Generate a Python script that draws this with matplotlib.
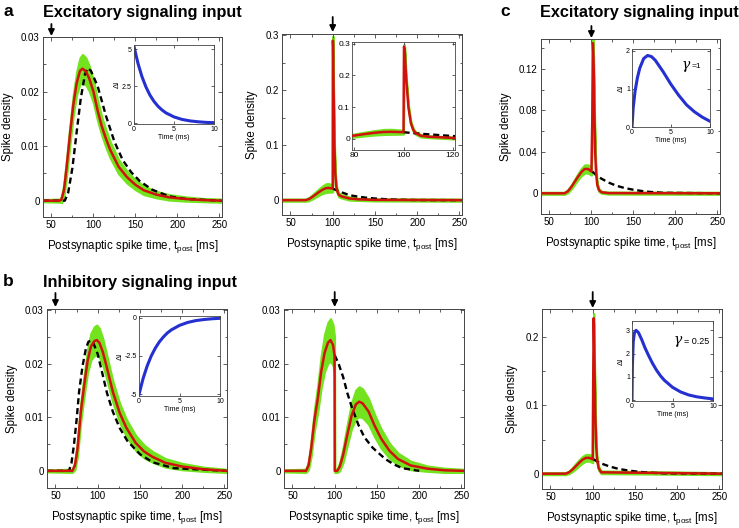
import numpy as np
import matplotlib
matplotlib.use("Agg")
import matplotlib.pyplot as plt
from matplotlib.ticker import MultipleLocator

plt.rcParams['font.family'] = ['Liberation Sans', 'DejaVu Sans']
plt.rcParams['mathtext.fontset'] = 'custom'
plt.rcParams['mathtext.rm'] = 'Liberation Sans'

W, H = 739, 528
GREEN = '#74e31f'
RED = '#d0120c'
BLUE = '#2530d0'

# ---- panel a, left: excitatory, spike density vs t_post ----
aL_t = [40, 60, 62, 65, 68, 72, 76, 80, 84, 87, 91, 95, 100, 105, 110, 115, 120, 130, 140, 150, 160, 175, 190, 210, 230, 252]
aL_red = [0, 0, 0.0002, 0.002, 0.006, 0.012, 0.0175, 0.0215, 0.0238, 0.0242, 0.0237, 0.0224, 0.0200, 0.0165, 0.0136, 0.0113,
          0.0093, 0.0062, 0.0043, 0.0029, 0.0019, 0.0011, 0.0006, 0.0003, 0.0001, 0]
aL_band = [0.0002, 0.0003, 0.0006, 0.0012, 0.0016, 0.0018, 0.0019, 0.0021, 0.0024, 0.0026, 0.0025, 0.0023, 0.0021, 0.0019, 0.0017,
           0.0016, 0.0015, 0.0013, 0.0011, 0.0009, 0.0008, 0.0006, 0.0005, 0.0004, 0.0003, 0.0003]
aL_dt = [40, 66, 70, 75, 80, 85, 90, 93, 97, 105, 115, 125, 135, 145, 155, 170, 190, 210, 252]
aL_dash = [0, 0, 0.0015, 0.006, 0.0125, 0.0188, 0.0232, 0.0243, 0.0238, 0.021, 0.0155, 0.0108, 0.0074, 0.0052, 0.0036, 0.0020,
           0.0008, 0.0003, 0]
aL_in_t = [0, 0.5, 1, 1.5, 2, 2.5, 3, 3.5, 4, 5, 6, 7, 8, 9, 10]
aL_in_y = [5.2, 4.05, 3.15, 2.45, 1.9, 1.48, 1.15, 0.9, 0.7, 0.43, 0.26, 0.16, 0.1, 0.06, 0.04]

# ---- panel a, middle ----
aM_t = [40, 68, 72, 76, 80, 84, 88, 92, 95, 98, 100, 100.2, 100.5, 101, 102, 103, 104, 105, 107, 110, 115, 120, 130, 150, 252]
aM_red = [0, 0, 0.002, 0.006, 0.0105, 0.015, 0.019, 0.0218, 0.0222, 0.0215, 0.021, 0.29, 0.28, 0.2, 0.1, 0.05, 0.028, 0.018,
          0.010, 0.007, 0.005, 0.003, 0.0015, 0.0005, 0]
aM_band = [0.002, 0.002, 0.003, 0.004, 0.005, 0.006, 0.007, 0.008, 0.008, 0.007, 0.006, 0.008, 0.01, 0.01, 0.008, 0.006, 0.005,
           0.004, 0.004, 0.003, 0.003, 0.003, 0.002, 0.002, 0.002]
aM_dt = [100, 105, 110, 120, 130, 140, 150, 160, 170, 180, 200, 252]
aM_dash = [0.021, 0.0175, 0.0145, 0.009, 0.0063, 0.0044, 0.003, 0.002, 0.0012, 0.0007, 0.0002, 0]

# ---- panel b, left: inhibitory ----
bL_t = [40, 70, 73, 76, 80, 84, 88, 92, 96, 99, 102, 106, 110, 118, 126, 134, 145, 155, 165, 180, 200, 225, 252]
bL_red = [0, 0, 0.001, 0.004, 0.011, 0.016, 0.0205, 0.0232, 0.0242, 0.0244, 0.0239, 0.0222, 0.0198, 0.0147, 0.0108, 0.0080,
          0.0052, 0.0036, 0.0026, 0.0015, 0.0008, 0.0003, 0]
bL_band = [0.0002, 0.0003, 0.0008, 0.0014, 0.0018, 0.002, 0.0022, 0.0025, 0.0027, 0.0028, 0.0027, 0.0025, 0.0023, 0.002, 0.0018,
           0.0016, 0.0014, 0.0012, 0.001, 0.0008, 0.0006, 0.0004, 0.0003]
bL_dt = [40, 66, 69, 72, 75, 78, 82, 86, 89, 92, 95, 100, 105, 111, 118, 126, 135, 150, 165, 190, 252]
bL_dash = [0, 0, 0.0015, 0.005, 0.0095, 0.0148, 0.0195, 0.0228, 0.0241, 0.0243, 0.0238, 0.0218, 0.0185, 0.0145, 0.0110, 0.0080,
           0.0056, 0.0031, 0.0016, 0.0005, 0]
bL_in_t = [0, 0.5, 1, 1.5, 2, 2.5, 3, 3.5, 4, 5, 6, 7, 8, 9, 10]
bL_in_y = [-5.0, -3.97, -3.16, -2.51, -2.0, -1.59, -1.27, -1.0, -0.8, -0.51, -0.32, -0.2, -0.13, -0.08, -0.05]

# ---- panel b, middle ----
bM_t = [40, 66, 69, 72, 76, 80, 84, 88, 92, 95, 98, 99.8, 100, 103, 106, 110, 115, 120, 125, 129, 133, 140, 147, 155, 165,
        175, 190, 210, 230, 252]
bM_red = [0, 0, 0.001, 0.004, 0.0095, 0.0135, 0.0185, 0.022, 0.0239, 0.0244, 0.0235, 0.0215, 0, 0, 0.0008, 0.003, 0.0068,
          0.0103, 0.0124, 0.0129, 0.0126, 0.0111, 0.0085, 0.0060, 0.0037, 0.0022, 0.0010, 0.0004, 0.0001, 0]
bM_band = [0.0002, 0.0003, 0.0008, 0.0014, 0.002, 0.0025, 0.003, 0.0035, 0.0038, 0.004, 0.0038, 0.0035, 0.0003, 0.0003, 0.0008,
           0.0014, 0.002, 0.0024, 0.0027, 0.0028, 0.0027, 0.0024, 0.0021, 0.0018, 0.0014, 0.0011, 0.0008, 0.0005, 0.0004, 0.0003]
bM_dt = [100, 105, 110, 115, 120, 128, 135, 145, 152, 160, 170, 180, 200]
bM_dash = [0.0216, 0.0198, 0.0175, 0.0145, 0.0120, 0.0086, 0.0063, 0.0043, 0.0033, 0.0022, 0.0012, 0.0005, 0]

# ---- panel c: gamma = 1 (top), gamma = 0.25 (bottom) ----
cT_t = [40, 68, 72, 76, 80, 84, 88, 92, 96, 100, 101, 101.7, 102.5, 103.5, 104.5, 105.5, 107, 109, 112, 120, 253]
cT_red = [0, 0, 0.002, 0.006, 0.011, 0.016, 0.0205, 0.0235, 0.0235, 0.021, 0.07, 0.145, 0.13, 0.08, 0.04, 0.02, 0.008, 0.003,
          0.001, 0.0002, 0]
cT_band = [0.001, 0.001, 0.0015, 0.002, 0.0025, 0.003, 0.0035, 0.004, 0.004, 0.0035, 0.004, 0.005, 0.005, 0.005, 0.004, 0.003,
           0.002, 0.0015, 0.001, 0.001, 0.001]
cB_t = [40, 68, 72, 76, 80, 84, 88, 92, 96, 100, 100.5, 101.2, 102, 103, 104, 105, 107, 110, 253]
cB_red = [0, 0, 0.002, 0.006, 0.011, 0.016, 0.0205, 0.0232, 0.0232, 0.021, 0.12, 0.228, 0.17, 0.09, 0.045, 0.022, 0.008,
          0.002, 0]
cB_band = [0.0015, 0.0015, 0.002, 0.003, 0.004, 0.0045, 0.005, 0.005, 0.005, 0.005, 0.006, 0.007, 0.007, 0.006, 0.005, 0.004,
           0.003, 0.002, 0.0015]
c_dt = [101, 105, 110, 120, 130, 140, 150, 160, 170, 185, 253]
c_dash = [0.021, 0.018, 0.015, 0.0105, 0.0072, 0.005, 0.0034, 0.0022, 0.0013, 0.0005, 0]
cT_in_t = [0, 0.15, 0.4, 0.7, 1, 1.5, 2, 2.5, 3, 4, 5, 6, 7, 8, 9, 10]
cT_in_y = [0, 0.5, 0.95, 1.3, 1.55, 1.8, 1.88, 1.85, 1.75, 1.45, 1.12, 0.83, 0.58, 0.4, 0.26, 0.15]
cB_in_t = [0, 0.05, 0.15, 0.3, 0.5, 0.8, 1.2, 1.6, 2, 2.5, 3, 3.5, 4, 5, 6, 7, 8, 9, 10]
cB_in_y = [0, 1.5, 2.5, 2.9, 3.0, 2.9, 2.6, 2.25, 1.95, 1.6, 1.3, 1.05, 0.85, 0.55, 0.35, 0.22, 0.14, 0.09, 0.05]

XTICKS = [50, 100, 150, 200, 250]
XLABEL = 'Postsynaptic spike time, t$_{\\mathrm{post}}$ [ms]'

fig = plt.figure(figsize=(W / 100, H / 100), dpi=100)


def box(l, t, r, b):
    return [l / W, 1 - b / H, (r - l) / W, (b - t) / H]


def style(ax, size, lw=0.7):
    for s in ax.spines.values():
        s.set_linewidth(lw)
        s.set_color('#444444')
    ax.tick_params(which='both', direction='in', top=True, right=True, labelsize=size,
                   width=0.6, color='#444444', pad=2.5)
    ax.tick_params(which='major', length=3)
    ax.tick_params(which='minor', length=1.8)


def main_panel(pos, t, red, band, dt, dash, ylim, yticks, ylabs, arrow, ylabel=True):
    ax = fig.add_axes(box(*pos))
    red = np.array(red)
    band = np.array(band)
    ax.fill_between(t, red - band, red + band, color=GREEN, edgecolor=GREEN, lw=1.5, zorder=1)
    ax.plot(dt, dash, color='k', lw=1.7, dashes=(2.6, 1.6), zorder=2)
    ax.plot(t, red, color=RED, lw=1.8, zorder=3)
    ax.set_xlim(40, 253)
    ax.set_ylim(*ylim)
    ax.set_xticks(XTICKS)
    ax.xaxis.set_minor_locator(MultipleLocator(25))
    ax.set_yticks(yticks)
    ax.set_yticklabels(ylabs)
    ax.yaxis.set_minor_locator(MultipleLocator((yticks[1] - yticks[0]) / 2))
    style(ax, 7)
    ax.set_xlabel(XLABEL, fontsize=8.3, labelpad=5.5)
    if ylabel:
        ax.set_ylabel('Spike density', fontsize=8.3, labelpad=5)
    x0, y_tail, y_tip = arrow
    ax.annotate('', xy=(x0, 1 - y_tip / H), xycoords=('data', 'figure fraction'),
                xytext=(x0, 1 - y_tail / H), textcoords=('data', 'figure fraction'),
                arrowprops=dict(arrowstyle='-|>', color='k', lw=1.3, mutation_scale=9, shrinkA=0, shrinkB=0))
    return ax


def small_inset(pos, t, y, ylim, yticks, ylabs):
    ax = fig.add_axes(box(*pos))
    ax.plot(t, y, color=BLUE, lw=2.2)
    ax.set_xlim(0, 10)
    ax.set_ylim(*ylim)
    ax.set_xticks([0, 5, 10])
    ax.set_xticklabels(['0', '5', '10'])
    ax.set_yticks(yticks)
    ax.set_yticklabels(ylabs)
    style(ax, 5, lw=0.6)
    ax.tick_params(which='major', length=2, pad=1.5)
    ax.set_xlabel('Time (ms)', fontsize=5, labelpad=0.5)
    ax.set_ylabel('\u0394I', fontsize=5.5, labelpad=1)
    return ax


# a
main_panel((43, 37, 222, 217), aL_t, aL_red, aL_band, aL_dt, aL_dash, (-0.003, 0.03),
           [0, 0.01, 0.02, 0.03], ['0', '0.01', '0.02', '0.03'], (50, 24, 36))
small_inset((134, 45, 214, 124), aL_in_t, aL_in_y, (-0.05, 5.3), [0, 2.5, 5], ['0', '2.5', '5'])

main_panel((282, 34, 462, 215), aM_t, aM_red, aM_band, aM_dt, aM_dash, (-0.027, 0.302),
           [0, 0.1, 0.2, 0.3], ['0', '0.1', '0.2', '0.3'], (100, 17, 32))
ins = fig.add_axes(box(352, 42, 455, 150))
ins.fill_between(aM_t, np.array(aM_red) - np.array(aM_band), np.array(aM_red) + np.array(aM_band),
                 color=GREEN, edgecolor=GREEN, lw=1.5, zorder=1)
ins.plot(aM_dt, aM_dash, color='k', lw=1.7, dashes=(2.6, 1.6), zorder=2)
ins.plot(aM_t, aM_red, color=RED, lw=1.8, zorder=3)
ins.set_xlim(79, 121)
ins.set_ylim(-0.035, 0.305)
ins.set_xticks([80, 100, 120])
ins.set_yticks([0, 0.1, 0.2, 0.3])
ins.set_yticklabels(['0', '0.1', '0.2', '0.3'])
style(ins, 6, lw=0.6)
ins.tick_params(which='major', length=2, pad=1.5)

# b
main_panel((47, 309, 227, 488), bL_t, bL_red, bL_band, bL_dt, bL_dash, (-0.0032, 0.0302),
           [0, 0.01, 0.02, 0.03], ['0', '0.01', '0.02', '0.03'], (50, 293, 307))
small_inset((139, 316, 220, 396), bL_in_t, bL_in_y, (-5.1, 0.1), [-5, -2.5, 0], ['-5', '-2.5', '0'])

main_panel((284, 309, 464, 488), bM_t, bM_red, bM_band, bM_dt, bM_dash, (-0.0032, 0.0302),
           [0, 0.01, 0.02, 0.03], ['0', '0.01', '0.02', '0.03'], (100, 292, 307), ylabel=False)

# c
main_panel((541, 39, 720, 214), cT_t, cT_red, cT_band, c_dt, c_dash, (-0.02, 0.149),
           [0, 0.04, 0.08, 0.12], ['0', '0.04', '0.08', '0.12'], (100, 26, 38))
ci = small_inset((632, 49, 710, 127), cT_in_t, cT_in_y, (0, 2.05), [0, 1, 2], ['0', '1', '2'])
ci.text(0.64, 0.8, '\u03b3', transform=ci.transAxes, fontsize=10, family='DejaVu Serif', style='italic', va='center')
ci.text(0.76, 0.78, '=1', transform=ci.transAxes, fontsize=6, va='center')

main_panel((542, 309, 722, 489), cB_t, cB_red, cB_band, c_dt, c_dash, (-0.0225, 0.2415),
           [0, 0.1, 0.2], ['0', '0.1', '0.2'], (100, 292, 308))
ci = small_inset((632, 321, 713, 401), cB_in_t, cB_in_y, (-0.04, 3.4), [0, 1, 2, 3], ['0', '1', '2', '3'])
ci.text(0.52, 0.76, '\u03b3', transform=ci.transAxes, fontsize=10, family='DejaVu Serif', style='italic', va='center')
ci.text(0.64, 0.75, '= 0.25', transform=ci.transAxes, fontsize=6.5, va='center')

# panel letters and headings
for x, y, s in [(3, 12, 'a'), (3, 281, 'b'), (500, 12, 'c')]:
    fig.text(x / W, 1 - y / H, s, fontsize=12.5, weight='bold', va='center', ha='left')
for x, y, s in [(43, 13, 'Excitatory signaling input'), (43, 283, 'Inhibitory signaling input'),
                (540, 13, 'Excitatory signaling input')]:
    fig.text(x / W, 1 - y / H, s, fontsize=11.7, weight='bold', va='center', ha='left')

fig.savefig('out.png', dpi=100)
